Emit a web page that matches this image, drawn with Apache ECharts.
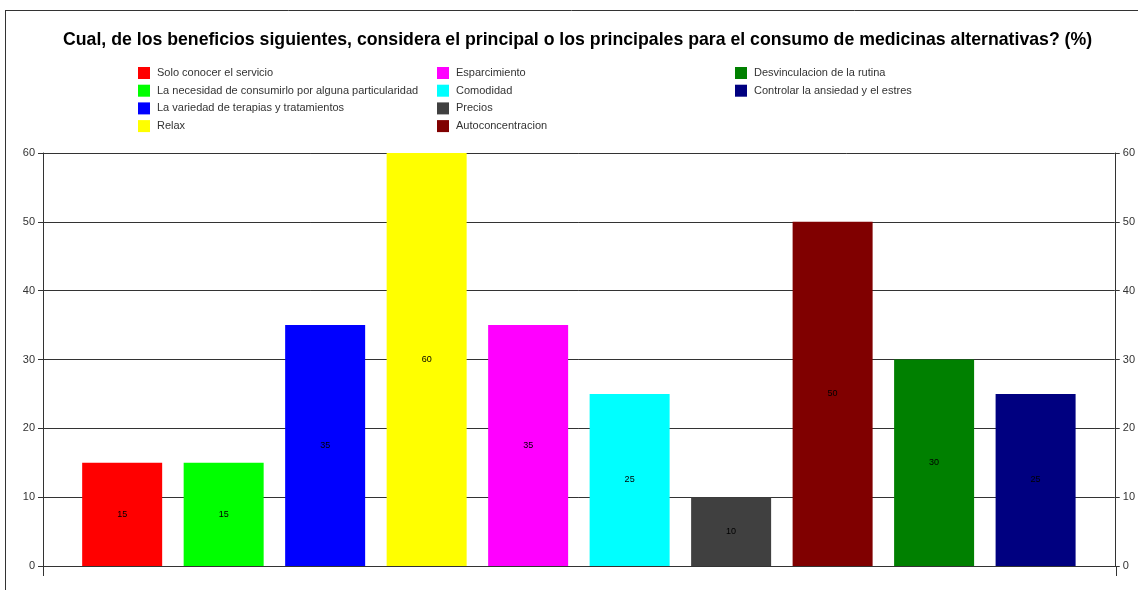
<!DOCTYPE html>
<html>
<head>
<meta charset="utf-8">
<script src="https://cdn.jsdelivr.net/npm/echarts@6/dist/echarts.min.js"></script>
<style>
html,body{margin:0;padding:0;background:#fff;}
#c{width:1138px;height:590px;}
</style>
</head>
<body>
<div id="c"></div>
<script>
const categories = [
  "Solo conocer el servicio",
  "La necesidad de consumirlo por alguna particularidad",
  "La variedad de terapias y tratamientos",
  "Relax",
  "Esparcimiento",
  "Comodidad",
  "Precios",
  "Autoconcentracion",
  "Desvinculacion de la rutina",
  "Controlar la ansiedad y el estres"
];
const values = [15, 15, 35, 60, 35, 25, 10, 50, 30, 25];
const colors = ["#ff0000","#00ff00","#0000ff","#ffff00","#ff00ff","#00ffff","#404040","#800000","#008000","#000080"];
const yTicks = [0, 10, 20, 30, 40, 50, 60];
const titleText = "Cual, de los beneficios siguientes, considera el principal o los principales para el consumo de medicinas alternativas? (%)";

const chart = echarts.init(document.getElementById('c'), null, {renderer:'canvas'});
const font = "'Liberation Sans', Arial, sans-serif";

const series = categories.map((name, i) => ({
  name: name,
  type: 'bar',
  barWidth: 80,
  barGap: '-100%',
  xAxisIndex: 0,
  yAxisIndex: 0,
  itemStyle: {color: colors[i]},
  label: {show: true, position: 'inside', color: '#000', fontSize: 9, fontFamily: font},
  data: [[i, values[i]]],
  animation: false
}));

function legend(items, left) {
  return {
    data: items.map(n => ({name: n, icon: 'rect'})),
    orient: 'vertical',
    left: left, top: 67,
    itemWidth: 12, itemHeight: 12, itemGap: 5.7,
    textStyle: {fontFamily: font, fontSize: 11, color: '#333', padding: [0,0,0,2]},
    selectedMode: false,
    padding: 0
  };
}

const axisColor = '#333';
const yAxisCommon = {
  type: 'value', min: 0, max: 60, interval: 10,
  axisLine: {show: true, onZero: false, lineStyle: {color: axisColor, width: 1}},
  axisTick: {show: true, length: 5, lineStyle: {color: axisColor}},
  axisLabel: {fontFamily: font, fontSize: 11, color: '#333', margin: 8},
};

chart.setOption({
  animation: false,
  title: {
    text: titleText, left: 63, top: 31, padding: 0,
    textStyle: {fontFamily: font, fontWeight: 'bold', fontSize: 17.7, color: '#000'}
  },
  legend: [
    legend(categories.slice(0,4), 138),
    legend(categories.slice(4,8), 437),
    legend(categories.slice(8,10), 735)
  ],
  grid: {left: 43, right: 22, top: 153, bottom: 24, containLabel: false},
  xAxis: {
    type: 'value', min: -0.78, max: 9.78,
    axisLine: {show: true, onZero: false, lineStyle: {color: axisColor}},
    axisTick: {show: false}, axisLabel: {show: false}, splitLine: {show: false}
  },
  yAxis: [
    Object.assign({}, yAxisCommon, {position: 'left', splitLine: {show: true, lineStyle: {color: axisColor, width: 1}}}),
    Object.assign({}, yAxisCommon, {position: 'right', splitLine: {show: false}})
  ],
  series: series,
  graphic: [
    {type: 'line', shape: {x1: 5.5, y1: 10, x2: 5.5, y2: 590}, style: {stroke: '#333', lineWidth: 1}, silent: true},
    {type: 'line', shape: {x1: 5, y1: 10.5, x2: 1138, y2: 10.5}, style: {stroke: '#333', lineWidth: 1}, silent: true},
    {type: 'line', shape: {x1: 43.5, y1: 566, x2: 43.5, y2: 576}, style: {stroke: axisColor, lineWidth: 1}, silent: true},
    {type: 'line', shape: {x1: 1116.5, y1: 566, x2: 1116.5, y2: 576}, style: {stroke: axisColor, lineWidth: 1}, silent: true}
  ]
});
</script>
</body>
</html>
